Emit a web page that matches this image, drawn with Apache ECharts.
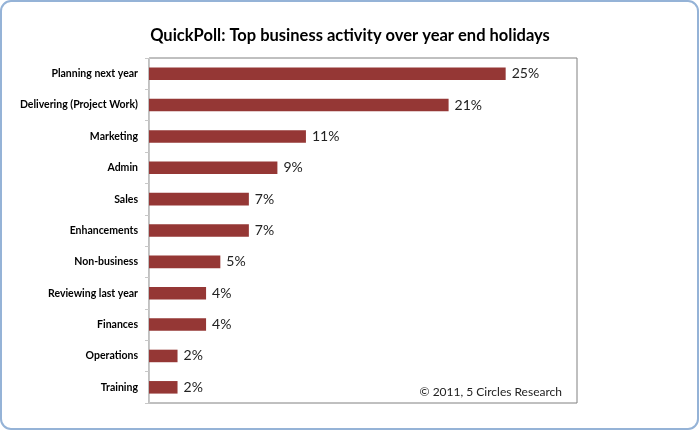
<!DOCTYPE html>
<html><head><meta charset="utf-8">
<script src="https://cdn.jsdelivr.net/npm/echarts@6/dist/echarts.min.js"></script>
<style>html,body{margin:0;padding:0;background:#fff}#c{width:700px;height:431px}</style>
</head><body><div id="c"></div>
<script>
const categories = ["Planning next year","Delivering (Project Work)","Marketing","Admin","Sales","Enhancements","Non-business","Reviewing last year","Finances","Operations","Training"];
const values = [25,21,11,9,7,7,5,4,4,2,2];
const titleText = "QuickPoll: Top business activity over year end holidays";
const footnote = "\u00a9 2011, 5 Circles Research";
const FONT = "Lato";
const chart = echarts.init(document.getElementById('c'));
chart.setOption({
  animation:false,
  title:{text:titleText,left:'center',top:22,textStyle:{fontFamily:FONT,fontWeight:'bold',fontSize:16.5,color:'#000'}},
  graphic:[
    {type:'rect',shape:{x:1,y:1,width:697,height:428,r:10},style:{fill:'none',stroke:'#95b3d7',lineWidth:2},z:-1},
    {type:'text',right:138,top:386,style:{text:footnote,fontFamily:FONT,fontSize:12,fill:'#222'}}
  ],
  grid:{left:149,right:123,top:58,bottom:28,show:true,borderColor:'#808080',borderWidth:1,backgroundColor:'#fff'},
  xAxis:{type:'value',min:0,max:30,show:false},
  yAxis:{type:'category',data:categories,inverse:true,
    axisLine:{show:true,lineStyle:{color:'#c8c8c8'}},
    axisTick:{show:true,length:4,lineStyle:{color:'#c8c8c8'}},
    axisLabel:{margin:11,fontFamily:FONT,fontWeight:'bold',fontSize:10.5,color:'#000'}},
  series:[{type:'bar',data:values,barWidth:'40%',itemStyle:{color:'#953735'},
    label:{show:true,position:'right',distance:6,formatter:'{c}%',fontFamily:FONT,fontSize:14,color:'#222'}}]
});
</script></body></html>
